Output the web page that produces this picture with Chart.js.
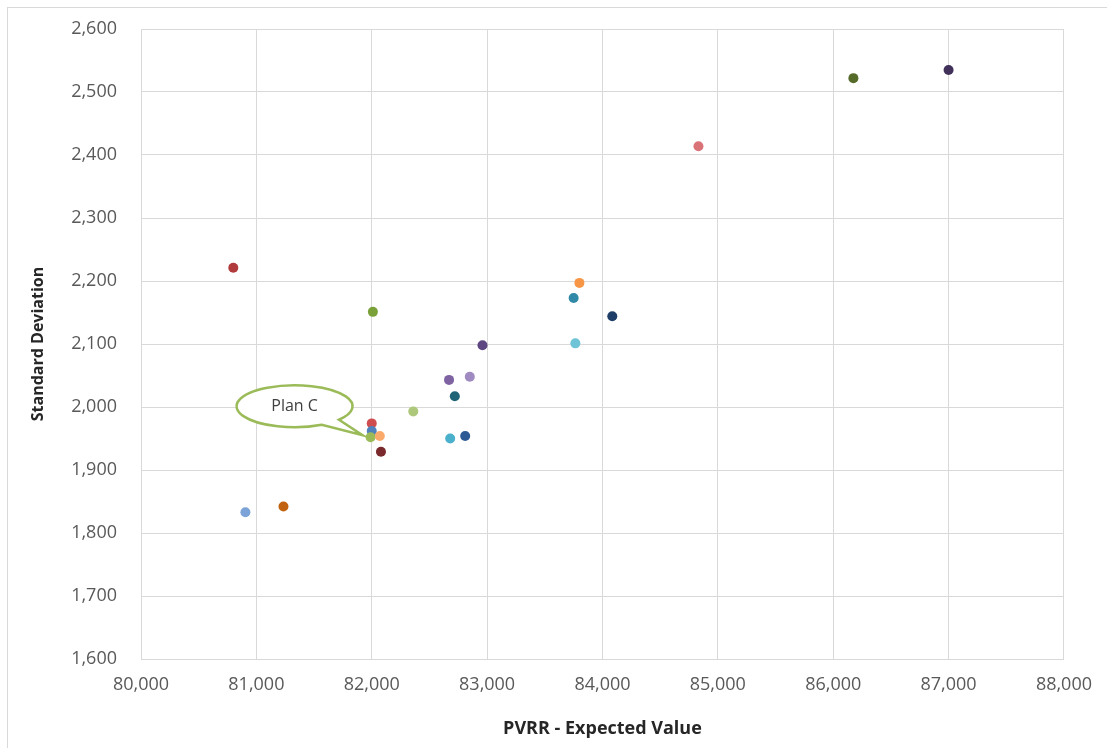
<!DOCTYPE html>
<html>
<head>
<meta charset="utf-8">
<script src="https://cdn.jsdelivr.net/npm/chart.js@4"></script>
<style>
  html, body { margin: 0; padding: 0; background: #ffffff; }
  #wrap { width: 1107px; height: 748px; position: relative; }
</style>
</head>
<body>
<div id="wrap"><canvas id="riskChart" width="1107" height="748"></canvas></div>
<script>
// Valores (PVRR esperado x desvio padrão)
const pvrrValues = [
  80800, 80905, 81235, 82010, 82000, 82000, 81990, 82070, 82080, 82360,
  82680, 82810, 82720, 82670, 82850, 82960, 83800, 83750, 84085, 83765,
  84832, 86175, 87000
];
const stdDevValues = [
  2221, 1833, 1842, 2151, 1974, 1962, 1952, 1954, 1929, 1993,
  1950, 1954, 2017, 2043, 2048, 2098, 2197, 2173, 2144, 2101,
  2414, 2522, 2535
];
const pointColors = [
  "#B03A3C", "#7BA3D8", "#C0620F", "#7AA03A", "#CF4D4F", "#4F81BD", "#9BBB59", "#FAAB6C", "#7A2A2C", "#ADC87A",
  "#4BB0CC", "#2B5A95", "#1F6477", "#7E62A2", "#A08AC2", "#5D4682", "#F79646", "#3089A6", "#1F3E67", "#6EC3D6",
  "#DA7378", "#566B2A", "#40305A"
];
const xTicks = [80000, 81000, 82000, 83000, 84000, 85000, 86000, 87000, 88000];
const yTicks = [1600, 1700, 1800, 1900, 2000, 2100, 2200, 2300, 2400, 2500, 2600];
const calloutLabel = "Plan C";
const calloutIndex = 6;

const FONT = "'Open Sans', 'Liberation Sans', sans-serif";

/**
 * Moldura externa do gráfico (só aparecem topo e esquerda na imagem).
 */
const frameBorder = {
  id: "frameBorder",
  beforeDraw(chart) {
    const ctx = chart.ctx;
    ctx.save();
    ctx.strokeStyle = "#D9D9D9";
    ctx.lineWidth = 1;
    ctx.strokeRect(7.5, 7.5, 1200, 800);
    ctx.restore();
  },
};

/**
 * Balão "Plan C" apontando para o ponto do plano.
 */
const planCallout = {
  id: "planCallout",
  afterDatasetsDraw(chart) {
    const { ctx, scales } = chart;
    const px = scales.x.getPixelForValue(pvrrValues[calloutIndex]);
    const py = scales.y.getPixelForValue(stdDevValues[calloutIndex]);
    const cx = px - 76;
    const cy = py - 31;
    const rx = 58;
    const ry = 21;
    const a1 = (62 * Math.PI) / 180;
    const a2 = (40 * Math.PI) / 180;

    ctx.save();
    ctx.beginPath();
    ctx.ellipse(cx, cy, rx, ry, 0, a1, a2, false);
    ctx.lineTo(px - 8, py - 2);
    ctx.closePath();
    ctx.fillStyle = "#ffffff";
    ctx.fill();
    ctx.strokeStyle = "#9BBB59";
    ctx.lineWidth = 2.5;
    ctx.lineJoin = "miter";
    ctx.stroke();

    ctx.fillStyle = "#404040";
    ctx.font = "16px " + FONT;
    ctx.textAlign = "center";
    ctx.textBaseline = "middle";
    ctx.fillText(calloutLabel, cx, cy);
    ctx.restore();
  },
};

new Chart(document.getElementById("riskChart"), {
  type: "scatter",
  data: {
    datasets: [
      {
        label: "Planos",
        data: pvrrValues.map((x, i) => ({ x: x, y: stdDevValues[i] })),
        backgroundColor: pointColors,
        borderWidth: 0,
        pointRadius: 5,
        pointHoverRadius: 5,
      },
    ],
  },
  options: {
    responsive: false,
    animation: false,
    layout: { padding: { left: 0, top: 29, right: 42, bottom: 0 } },
    plugins: {
      legend: { display: false },
      tooltip: { enabled: false },
    },
    scales: {
      x: {
        type: "linear",
        min: 80000,
        max: 88000,
        afterBuildTicks: (scale) => { scale.ticks = xTicks.map((v) => ({ value: v })); },
        afterFit: (scale) => { scale.height = 89; },
        grid: { color: "#D9D9D9", drawTicks: false },
        border: { color: "#D9D9D9" },
        ticks: {
          color: "#595959",
          font: { family: FONT, size: 18 },
          padding: 15,
          callback: (v) => v.toLocaleString("en-US"),
        },
        title: {
          display: true,
          text: "PVRR - Expected Value",
          color: "#262626",
          font: { family: FONT, size: 18, weight: "bold" },
          padding: { top: 0, bottom: 8 },
        },
      },
      y: {
        type: "linear",
        min: 1600,
        max: 2600,
        afterBuildTicks: (scale) => { scale.ticks = yTicks.map((v) => ({ value: v })); },
        afterFit: (scale) => {
          // largura fixa e sem folga extra acima/abaixo do eixo
          scale.width = 141;
          scale.paddingTop = 0;
          scale.paddingBottom = 0;
        },
        grid: { color: "#D9D9D9", drawTicks: false },
        border: { color: "#D9D9D9" },
        ticks: {
          color: "#595959",
          font: { family: FONT, size: 18 },
          padding: 24,
          callback: (v) => v.toLocaleString("en-US"),
        },
        title: {
          display: true,
          text: "Standard Deviation",
          color: "#262626",
          font: { family: FONT, size: 16, weight: "bold" },
          padding: { top: 29, bottom: 0 },
        },
      },
    },
  },
  plugins: [frameBorder, planCallout],
});
</script>
</body>
</html>
